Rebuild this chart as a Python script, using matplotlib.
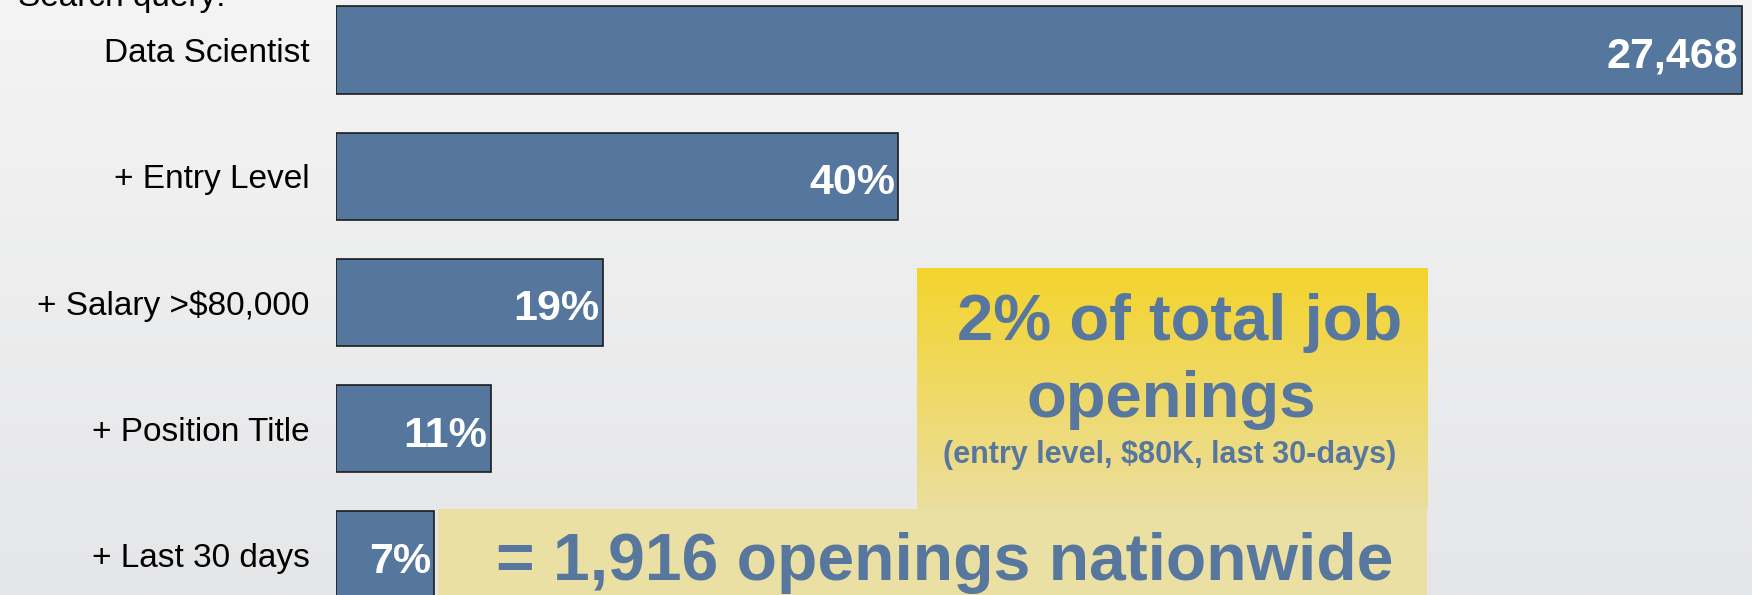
import numpy as np
import matplotlib
matplotlib.use("Agg")
import matplotlib.pyplot as plt
from matplotlib.colors import LinearSegmentedColormap

plt.rcParams["font.family"] = ["Liberation Sans", "DejaVu Sans"]

# data
categories = ["Data Scientist", "+ Entry Level", "+ Salary >$80,000",
              "+ Position Title", "+ Last 30 days"]
share_pct = [100, 40, 19, 11, 7]
bar_labels = ["27,468", "40%", "19%", "11%", "7%"]

BAR_BLUE = "#56779d"
TEXT_BLUE = "#57779e"

fig = plt.figure(figsize=(17.52, 5.95), dpi=100)

# background gradient + callout boxes (figure-fraction coordinates)
bg = fig.add_axes([0, 0, 1, 1], zorder=0)
bg.set_xlim(0, 1)
bg.set_ylim(0, 1)
bg.axis("off")
grad = np.linspace(0, 1, 256).reshape(-1, 1)
bg_cmap = LinearSegmentedColormap.from_list("bg", ["#f4f4f4", "#e5e6e8"])
bg.imshow(grad, cmap=bg_cmap, extent=(0, 1, 0, 1), origin="upper",
          aspect="auto", zorder=0)
box_cmap = LinearSegmentedColormap.from_list("box", ["#f4d42c", "#ebde9e"])
bg.imshow(grad, cmap=box_cmap, extent=(0.5234, 0.8145, 0.1445, 0.5479),
          origin="upper", aspect="auto", zorder=1)
bg.add_patch(plt.Rectangle((0.25, 0), 0.5645, 0.1445, facecolor="#ebe0a3",
                           edgecolor="none", zorder=2))

# bars
ax = fig.add_axes([0.1918, 0, 0.8082, 1], zorder=2)
ax.patch.set_alpha(0)
y = np.arange(len(categories))
ax.barh(y, share_pct, height=0.69, color=BAR_BLUE, edgecolor="#1c1c1c",
        linewidth=1.2)
for yi, v, lab in zip(y, share_pct, bar_labels):
    ax.annotate(lab, (v, yi), xytext=(-2.5, -12.8), textcoords="offset points",
                ha="right", va="baseline", color="white", fontsize=31,
                fontweight="bold")
# category names, right-aligned left of the bars
for yi, cat in zip(y, categories):
    ax.annotate(cat, (0, yi), xytext=(-19, -8.8), textcoords="offset points",
                ha="right", va="baseline", fontsize=24, annotation_clip=False)
ax.set_xlim(0, 100.71)
ax.set_ylim(4.317, -0.396)
ax.set_xticks([])
ax.set_yticks([])
for s in ax.spines.values():
    s.set_visible(False)

# callout text
fig.text(18 / 1752, 1 - 6 / 595, "Search query:", fontsize=24, va="baseline")
fig.text(0.6735, 0.4286, "2% of total job", fontsize=47, fontweight="bold",
         color=TEXT_BLUE, ha="center", va="baseline", zorder=5)
fig.text(0.6684, 0.2992, "openings", fontsize=47, fontweight="bold",
         color=TEXT_BLUE, ha="center", va="baseline", zorder=5)
fig.text(0.6678, 0.2218, "(entry level, $80K, last 30-days)", fontsize=22,
         fontweight="bold", color=TEXT_BLUE, ha="center", va="baseline",
         zorder=5)
fig.text(0.5390, 0.0252, "= 1,916 openings nationwide", fontsize=47.5,
         fontweight="bold", color=TEXT_BLUE, ha="center", va="baseline",
         zorder=5)

fig.savefig("out.png", dpi=100)
